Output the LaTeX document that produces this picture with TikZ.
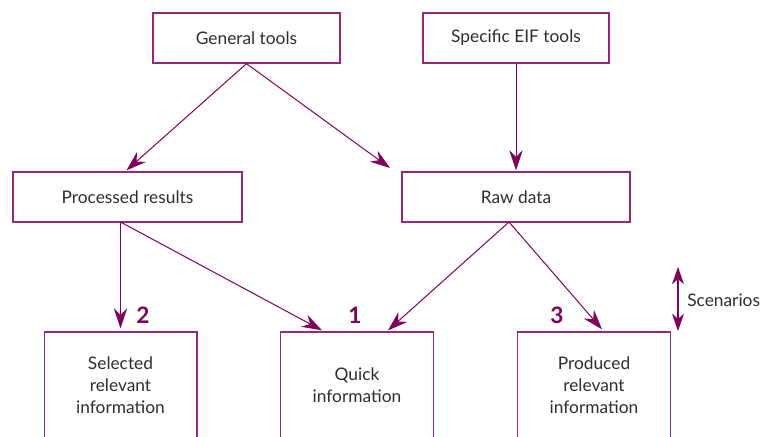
\documentclass[tikz,border=0pt]{standalone}
\usepackage{fontspec}
\setmainfont{Lato}
\usetikzlibrary{arrows.meta,calc}
\definecolor{plum}{RGB}{128,0,90}
\definecolor{boxline}{RGB}{150,40,120}
\definecolor{txt}{RGB}{45,45,45}
\begin{document}
\begin{tikzpicture}[x=0.75pt,y=-0.75pt,
  box/.style={draw=boxline, line width=1pt, text=txt, font=\fontsize{13}{16.5}\selectfont, align=center, inner sep=0pt, rectangle},
  topbox/.style={box, minimum height=37.5pt},
  lowbox/.style={box, minimum width=114.5pt, minimum height=79.5pt},
  arr/.style={draw=plum, line width=0.75pt, -{Stealth[length=15pt,width=10pt,inset=5pt]}},
  darr/.style={draw=plum, line width=1pt, {Stealth[length=13pt,width=9pt,inset=4pt]}-{Stealth[length=13pt,width=9pt,inset=4pt]}},
  num/.style={text=plum, font=\bfseries\fontsize{17}{19}\selectfont, inner sep=0pt},
  lbl/.style={text=txt, font=\fontsize{13}{15}\selectfont, inner sep=0pt}]
\useasboundingbox (0,0) rectangle (760,436);
\clip (0,0) rectangle (760,436);

\node[topbox, minimum width=140.25pt] (gen) at (246.5,38) {General tools};
\node[topbox, minimum width=139.5pt] (spec) at (516,38) {Specific EIF tools};
\node[topbox, minimum width=171.75pt] (proc) at (127.5,197) {Processed results};
\node[topbox, minimum width=171pt] (raw) at (516,197) {Raw data};

\node[lowbox] (sel) at (120.5,385) {Selected\\relevant\\information};
\node[lowbox] (quick) at (357,385) {Quick\\information};
\node[lowbox] (prod) at (594,385) {Produced\\relevant\\information};

\coordinate (rawin) at (390,168);
\coordinate (procout) at (120.5,222);
\coordinate (rawout) at (509,222);

\draw[arr] (gen.south) -- ($(proc.north)+(-1,-1)$);
\draw[arr] (gen.south) -- (rawin);
\draw[arr] (spec.south) -- ($(raw.north)+(0,-1)$);
\draw[arr] (procout) -- ($(sel.north)+(0,-3)$);
\draw[arr] (procout) -- ($(quick.north west)+(42,-1)$);
\draw[arr] (rawout) -- ($(quick.north)+(31,-1)$);
\draw[arr] (rawout) -- ($(prod.north)+(8,-2)$);

\node[num] (n2) at (143,315) {2};
\node[num] (n1) at (355,315) {1};
\node[num] (n3) at (557,315) {3};

\coordinate (scA) at (678,267);
\coordinate (scB) at (678,331);
\draw[darr] (scA) -- (scB);
\node[lbl, anchor=west] (scen) at (687,300) {Scenarios};
\end{tikzpicture}
\end{document}
